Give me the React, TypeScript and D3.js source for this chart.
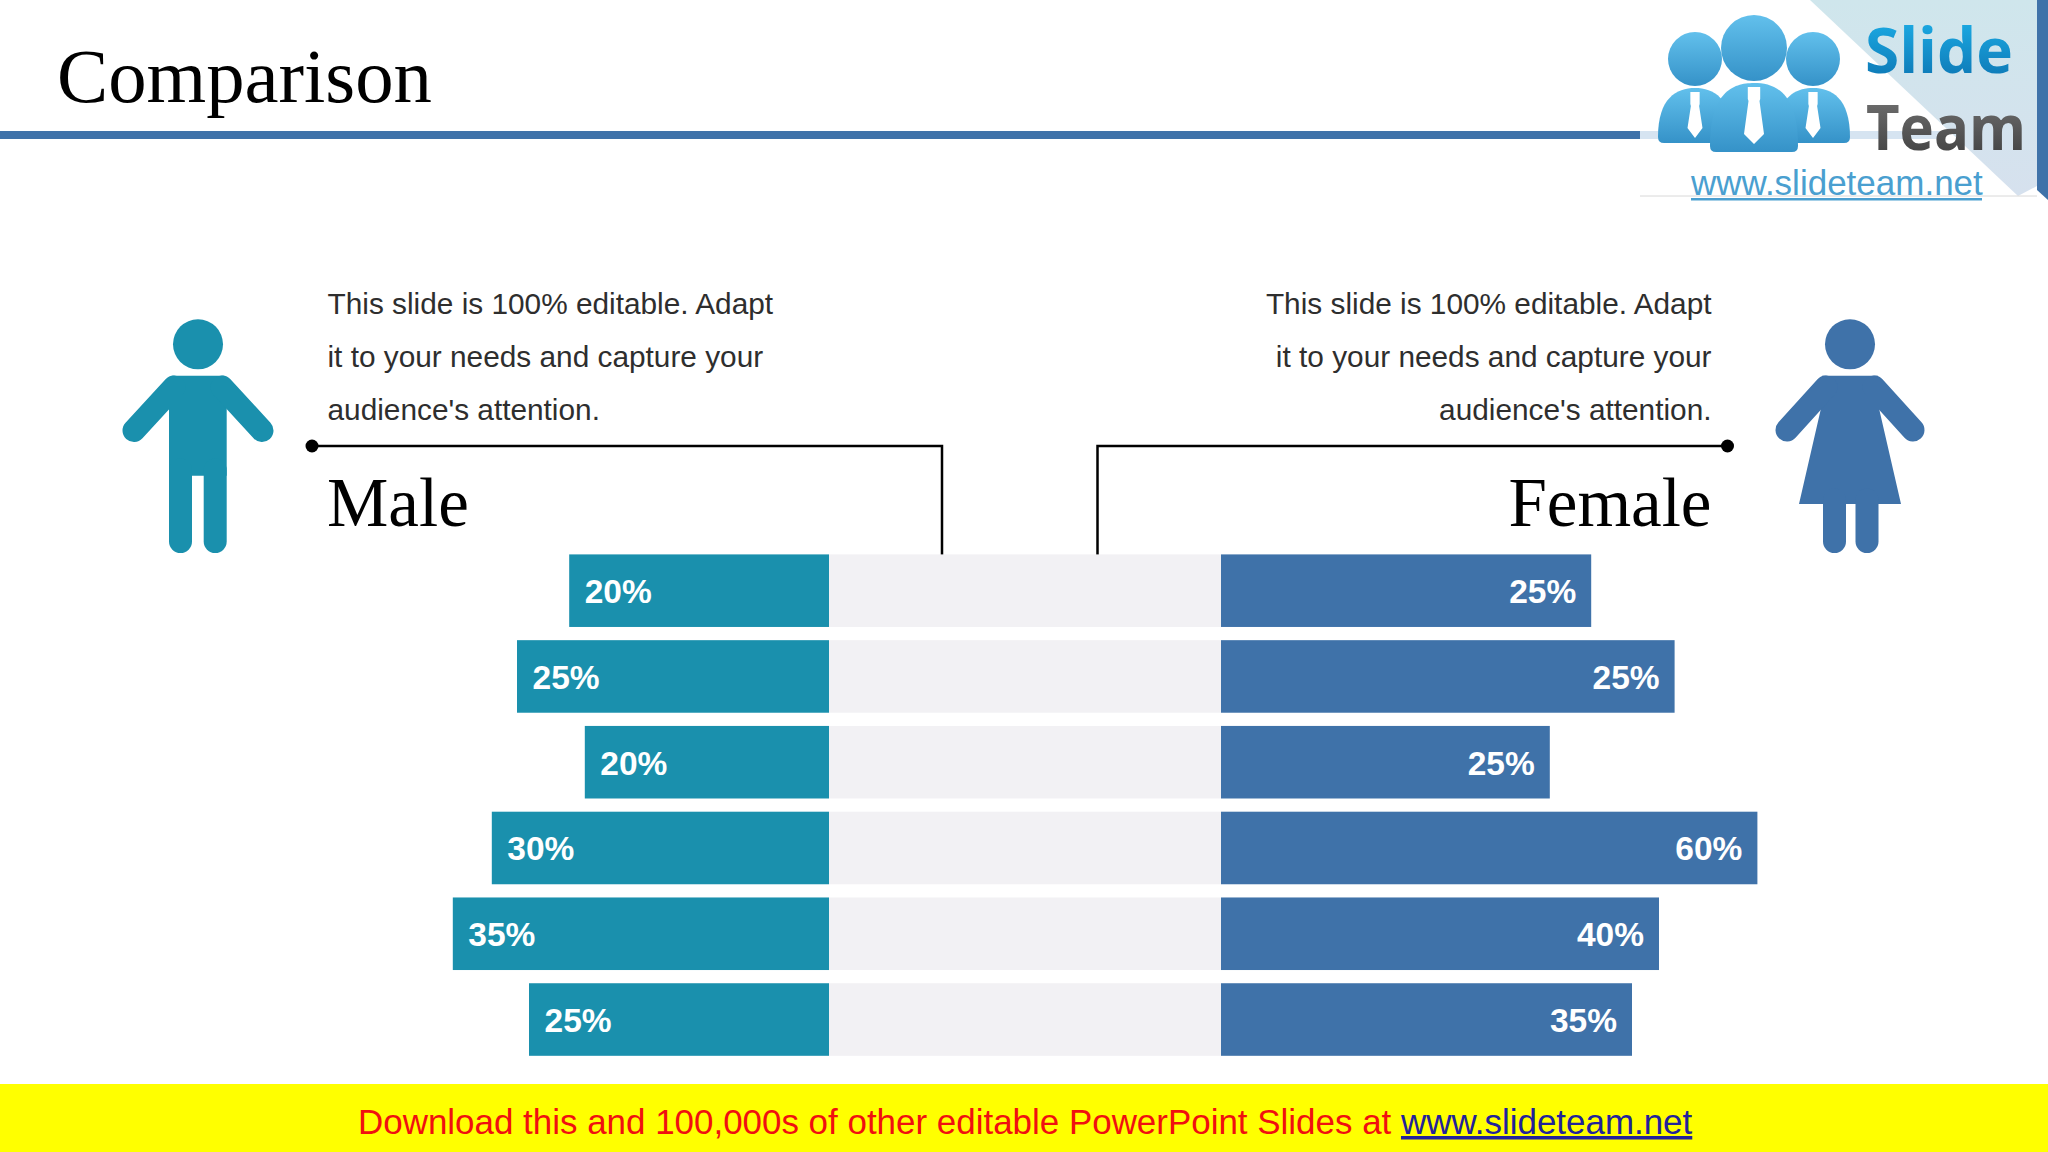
import React, { useEffect, useRef } from "react";
import * as d3 from "d3";

const rows = ["a", "b", "c", "d", "e", "f"];
// printed labels do not follow the bar lengths on the slide, so they are kept apart
const maleLabels = ["20%", "25%", "20%", "30%", "35%", "25%"];
const femaleLabels = ["25%", "25%", "25%", "60%", "40%", "35%"];
const maleLengths = [43.3, 52, 40.7, 56.2, 62.7, 50];
const femaleLengths = [61.7, 75.6, 54.8, 89.4, 73, 68.5];
const blurbLines = [
  "This slide is 100% editable. Adapt",
  "it to your needs and capture your",
  "audience's attention.",
];

const TEAL = "#1a90ad";
const BLUE = "#3f72a9";
const SANS = "'Liberation Sans', Arial, sans-serif";
const SERIF = "'Liberation Serif', 'Times New Roman', serif";

const width = 2048;
const height = 1152;

const App: React.FC = () => {
  const svgRef = useRef<SVGSVGElement | null>(null);

  useEffect(() => {
    if (!svgRef.current) return;
    const svg = d3.select(svgRef.current);
    svg.selectAll("*").remove();

    const y = d3.scaleBand<string>().domain(rows).range([554.4, 1055.8]).paddingInner(0.154);
    const xMale = d3.scaleLinear().domain([0, 100]).range([829, 229]);
    const xFemale = d3.scaleLinear().domain([0, 100]).range([1221, 1821]);

    // Gradients for the logo
    const defs = svg.append("defs");
    const grad = (id: string, stops: [number, string][]) => {
      const g = defs.append("linearGradient").attr("id", id).attr("x1", 0).attr("y1", 0).attr("x2", 0).attr("y2", 1);
      stops.forEach(([o, c]) => g.append("stop").attr("offset", o).attr("stop-color", c));
    };
    grad("person", [[0, "#62c0ec"], [1, "#3592c8"]]);
    grad("slideText", [[0, "#1fb6ee"], [1, "#0b6fad"]]);
    grad("teamText", [[0, "#7a7a7a"], [1, "#3a3a3a"]]);
    grad("triangle", [[0, "#cfe6ec"], [1, "#d6e1ee"]]);

    svg.append("rect").attr("width", width).attr("height", height).attr("fill", "#ffffff");

    // Header
    svg.append("text").attr("x", 57).attr("y", 102).attr("font-family", SERIF).attr("font-size", 76.7).attr("fill", "#000").text("Comparison");
    svg.append("rect").attr("x", 0).attr("y", 131).attr("width", 1640).attr("height", 8).attr("fill", BLUE);

    // Logo
    const logo = svg.append("g");
    logo.append("path").attr("d", "M1810,0 L2037,0 L2037,186 L2018,196 Z").attr("fill", "url(#triangle)");
    logo.append("rect").attr("x", 1640).attr("y", 131).attr("width", 300).attr("height", 8).attr("fill", "#d6e4f1");
    logo.append("path").attr("d", "M2037,0 L2048,0 L2048,200 L2037,190 Z").attr("fill", BLUE);
    logo.append("line").attr("x1", 1640).attr("x2", 2037).attr("y1", 196).attr("y2", 196).attr("stroke", "#d8d8d8").attr("stroke-width", 1);
    const person = (cx: number, headY: number, r: number, bodyW: number, top: number, bottom: number, tieW: number, tieEnd: number) => {
      logo.append("path")
        .attr("d", `M${cx - bodyW / 2},${bottom - 6} C${cx - bodyW / 2},${top + 10} ${cx - bodyW / 4},${top} ${cx},${top} C${cx + bodyW / 4},${top} ${cx + bodyW / 2},${top + 10} ${cx + bodyW / 2},${bottom - 6} Q${cx + bodyW / 2},${bottom} ${cx + bodyW / 2 - 6},${bottom} L${cx - bodyW / 2 + 6},${bottom} Q${cx - bodyW / 2},${bottom} ${cx - bodyW / 2},${bottom - 6} Z`)
        .attr("fill", "url(#person)");
      logo.append("circle").attr("cx", cx).attr("cy", headY).attr("r", r).attr("fill", "url(#person)");
      const t = top + 4;
      logo.append("path")
        .attr("d", `M${cx - tieW * 0.62},${t} L${cx + tieW * 0.62},${t} L${cx + tieW * 0.62},${t + 12} L${cx + tieW * 0.55},${t + 14} L${cx + tieW},${tieEnd - 10} L${cx},${tieEnd} L${cx - tieW},${tieEnd - 10} L${cx - tieW * 0.55},${t + 14} L${cx - tieW * 0.62},${t + 12} Z`)
        .attr("fill", "#fff");
    };
    person(1695, 59, 27, 74, 88, 143, 7.5, 138);
    person(1813, 59, 27, 74, 88, 143, 7.5, 138);
    person(1754, 48, 33, 88, 83, 152, 10, 144);
    logo.append("text").attr("x", 1865).attr("y", 73).attr("font-family", "'Open Sans', sans-serif").attr("font-weight", 700).attr("font-size", 63)
      .attr("textLength", 148).attr("lengthAdjust", "spacingAndGlyphs").attr("fill", "url(#slideText)").text("Slide");
    logo.append("text").attr("x", 1866).attr("y", 150).attr("font-family", "'Open Sans', sans-serif").attr("font-weight", 700).attr("font-size", 63)
      .attr("textLength", 160).attr("lengthAdjust", "spacingAndGlyphs").attr("fill", "url(#teamText)").text("Team");
    logo.append("text").attr("x", 1691).attr("y", 195).attr("font-family", SANS).attr("font-size", 35).attr("fill", "#4a9fd0").text("www.slideteam.net");
    logo.append("rect").attr("x", 1691).attr("y", 198).attr("width", 291).attr("height", 2.5).attr("fill", "#4a9fd0");

    // Person icons
    const limb = (g: d3.Selection<SVGGElement, unknown, null, undefined>, d: string, w: number, color: string) =>
      g.append("path").attr("d", d).attr("fill", "none").attr("stroke", color).attr("stroke-width", w).attr("stroke-linecap", "round").attr("stroke-linejoin", "round");

    const maleIcon = svg.append("g");
    maleIcon.append("circle").attr("cx", 198).attr("cy", 344.3).attr("r", 25).attr("fill", TEAL);
    maleIcon.append("path")
      .attr("d", "M172,375.7 L224,375.7 L226.7,385 L226.7,475.7 L169,475.7 L169,385 Z")
      .attr("fill", TEAL);
    limb(maleIcon, "M174,387 L134,430.5", 23, TEAL);
    limb(maleIcon, "M222,387 L262,430.5", 23, TEAL);
    limb(maleIcon, "M180.5,470 L180.5,541.5", 23, TEAL);
    limb(maleIcon, "M215.2,470 L215.2,541.5", 23, TEAL);

    const femaleIcon = svg.append("g");
    femaleIcon.append("circle").attr("cx", 1850).attr("cy", 344.3).attr("r", 25).attr("fill", BLUE);
    femaleIcon.append("path")
      .attr("d", "M1822,375.7 L1878,375.7 L1878,404 L1901,504 L1799,504 L1822,404 Z")
      .attr("fill", BLUE);
    limb(femaleIcon, "M1826,387 L1787,430", 23, BLUE);
    limb(femaleIcon, "M1874,387 L1913,430", 23, BLUE);
    limb(femaleIcon, "M1834.5,500 L1834.5,541.5", 23, BLUE);
    limb(femaleIcon, "M1867,500 L1867,541.5", 23, BLUE);

    // Blurbs
    blurbLines.forEach((line, i) => {
      const ty = 313.5 + i * 53.3;
      svg.append("text").attr("x", 327.5).attr("y", ty).attr("font-family", SANS).attr("font-size", 29.8).attr("fill", "#2e2e2e").text(line);
      svg.append("text").attr("x", 1711.5).attr("y", ty).attr("text-anchor", "end").attr("font-family", SANS).attr("font-size", 29.8).attr("fill", "#2e2e2e").text(line);
    });

    // Connectors
    svg.append("path").attr("d", "M312,446 L942,446 L942,555").attr("fill", "none").attr("stroke", "#000").attr("stroke-width", 2.5);
    svg.append("path").attr("d", "M1727,446 L1097.5,446 L1097.5,555").attr("fill", "none").attr("stroke", "#000").attr("stroke-width", 2.5);
    svg.append("circle").attr("cx", 312).attr("cy", 446).attr("r", 6.5).attr("fill", "#000");
    svg.append("circle").attr("cx", 1727.5).attr("cy", 446).attr("r", 6.5).attr("fill", "#000");
    svg.append("text").attr("x", 327).attr("y", 526).attr("font-family", SERIF).attr("font-size", 69).attr("fill", "#000").text("Male");
    svg.append("text").attr("x", 1711.5).attr("y", 526).attr("text-anchor", "end").attr("font-family", SERIF).attr("font-size", 69).attr("fill", "#000").text("Female");

    // Bars
    const band = y.bandwidth();
    svg.append("g").selectAll("rect").data(rows).join("rect")
      .attr("x", xMale(0)).attr("y", (d) => y(d)!).attr("width", xFemale(0) - xMale(0)).attr("height", band).attr("fill", "#f2f1f4");

    svg.append("g").selectAll("rect").data(rows).join("rect")
      .attr("x", (_, i) => xMale(maleLengths[i])).attr("y", (d) => y(d)!)
      .attr("width", (_, i) => xMale(0) - xMale(maleLengths[i])).attr("height", band).attr("fill", TEAL);
    svg.append("g").selectAll("rect").data(rows).join("rect")
      .attr("x", xFemale(0)).attr("y", (d) => y(d)!)
      .attr("width", (_, i) => xFemale(femaleLengths[i]) - xFemale(0)).attr("height", band).attr("fill", BLUE);

    const labelStyle = (sel: any) =>
      sel.attr("font-family", SANS).attr("font-weight", 700).attr("font-size", 33.5).attr("fill", "#fff");
    svg.append("g").selectAll("text").data(rows).join("text")
      .attr("x", (_, i) => xMale(maleLengths[i]) + 15.5).attr("y", (d) => y(d)! + band / 2 + 12.5)
      .text((_, i) => maleLabels[i]).call(labelStyle);
    svg.append("g").selectAll("text").data(rows).join("text")
      .attr("x", (_, i) => xFemale(femaleLengths[i]) - 15).attr("y", (d) => y(d)! + band / 2 + 12.5)
      .attr("text-anchor", "end")
      .text((_, i) => femaleLabels[i]).call(labelStyle);

    // Footer strip
    svg.append("rect").attr("x", 0).attr("y", 1084).attr("width", width).attr("height", 68).attr("fill", "#ffff00");
    const foot = svg.append("text").attr("x", 358).attr("y", 1134).attr("font-family", SANS).attr("font-size", 34.95);
    foot.append("tspan").attr("fill", "#f01010").text("Download this and 100,000s of other editable PowerPoint Slides at ");
    foot.append("tspan").attr("fill", "#22229a").attr("text-decoration", "underline").text("www.slideteam.net");
  }, []);

  return <svg ref={svgRef} width={width} height={height} style={{ position: "absolute", left: 0, top: 0, display: "block" }} />;
};

export default App;
